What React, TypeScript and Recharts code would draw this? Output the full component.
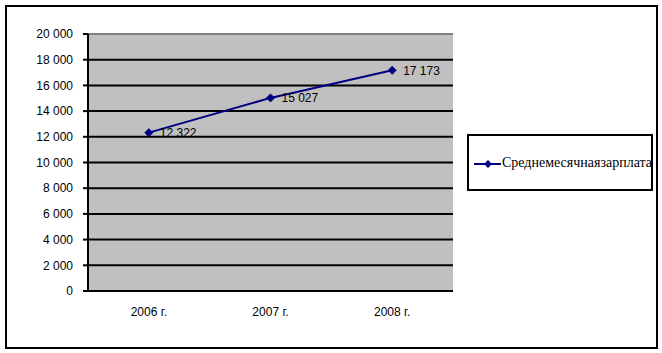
import React from 'react';
import { LineChart, Line, XAxis, YAxis, CartesianGrid, ReferenceLine, LabelList, Legend } from 'recharts';

const categories = ['2006 г.', '2007 г.', '2008 г.'];
const salary = [12322, 15027, 17173];
const yTicks = [0, 2000, 4000, 6000, 8000, 10000, 12000, 14000, 16000, 18000, 20000];
const boundaryTicks = [0, 1, 2, 3];
const seriesName = 'Среднемесячнаязарплата';

const data = categories.map((c, i) => ({ year: c, value: salary[i] }));

const fmt = (v: number) => String(v).replace(/\B(?=(\d{3})+(?!\d))/g, ' ');

const NAVY = '#000080';

const Diamond = (props: any) => {
  const { cx, cy } = props;
  if (cx == null || cy == null) return null;
  const r = 4;
  return <polygon points={`${cx},${cy - r} ${cx + r},${cy} ${cx},${cy + r} ${cx - r},${cy}`} fill={NAVY} stroke={NAVY} strokeWidth={1} />;
};

const LegendBox = () => (
  <div style={{ width: 186, height: 57, boxSizing: 'border-box', border: '2px solid #000', background: '#fff', position: 'relative', overflow: 'hidden' }}>
    <svg width={34} height={12} style={{ position: 'absolute', left: 4, top: 22 }}>
      <line x1={1} y1={6} x2={28} y2={6} stroke={NAVY} strokeWidth={2} />
      <polygon points="15,2 19,6 15,10 11,6" fill={NAVY} />
    </svg>
    <span style={{ position: 'absolute', left: 33, top: 19, fontFamily: 'Liberation Serif', fontSize: 14, whiteSpace: 'nowrap', color: '#000', lineHeight: '16px' }}>{seriesName}</span>
  </div>
);

export default function App() {
  return (
    <div style={{ position: 'absolute', left: 0, top: 0, width: 662, height: 353, background: '#fff' }}>
      <div style={{ position: 'absolute', left: 5, top: 5, width: 653, height: 344, boxSizing: 'border-box', border: '2px solid #000' }} />
      <LineChart
        width={662}
        height={353}
        data={data}
        margin={{ top: 34, right: 23, bottom: 26, left: 0 }}
        style={{ fontFamily: 'Liberation Sans', position: 'absolute', left: 0, top: 0 }}
      >
        <CartesianGrid vertical={false} stroke="#000" strokeWidth={2} fill="#C0C0C0" fillOpacity={1} />
        <XAxis
          xAxisId="a"
          type="number"
          domain={[0, 3]}
          ticks={boundaryTicks}
          allowDataOverflow
          height={6}
          tick={false}
          tickSize={5}
          tickLine={{ stroke: '#000', strokeWidth: 2 }}
          axisLine={{ stroke: '#000', strokeWidth: 2 }}
        />
        <XAxis
          xAxisId="b"
          dataKey="year"
          scale="band"
          height={30}
          axisLine={false}
          tickLine={false}
          tickSize={0}
          tickMargin={10}
          tick={{ fill: '#000', fontSize: 12 }}
        />
        <YAxis
          width={88}
          domain={[0, 20000]}
          ticks={yTicks}
          interval={0}
          tickFormatter={fmt}
          tickSize={5}
          tickMargin={10}
          tick={{ fill: '#000', fontSize: 12 }}
          tickLine={{ stroke: '#000', strokeWidth: 2 }}
          axisLine={{ stroke: '#000', strokeWidth: 2 }}
        />
        <ReferenceLine y={20000} xAxisId="b" stroke="#808080" strokeWidth={2} />
        <ReferenceLine x={3} xAxisId="a" stroke="#808080" strokeWidth={2} />
        <Legend
          layout="horizontal"
          verticalAlign="middle"
          align="right"
          content={() => <LegendBox />}
          wrapperStyle={{ left: 467, top: 134, width: 186, height: 57 }}
        />
        <Line
          xAxisId="b"
          dataKey="value"
          name={seriesName}
          stroke={NAVY}
          strokeWidth={2}
          dot={<Diamond />}
          activeDot={false}
          isAnimationActive={false}
        >
          <LabelList dataKey="value" position="right" offset={11} formatter={(v: any) => fmt(Number(v))} style={{ fill: '#000', fontSize: 12 }} />
        </Line>
      </LineChart>
    </div>
  );
}
